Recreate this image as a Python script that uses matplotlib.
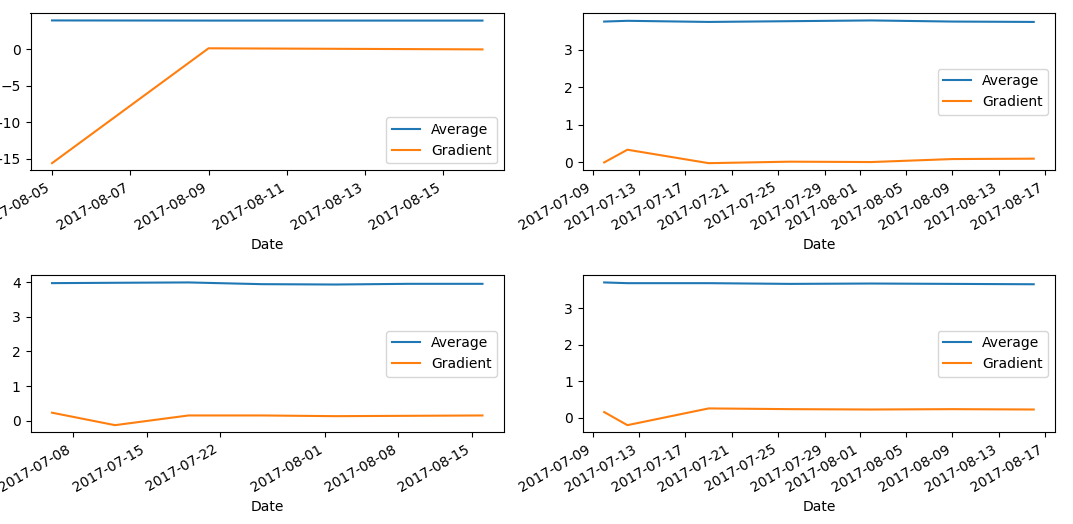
import numpy as np
import pandas as pd
import matplotlib
matplotlib.use('Agg')
import matplotlib.pyplot as plt

# four series
dates_a = ['2017-08-05', '2017-08-09', '2017-08-16']
avg_a = [3.97, 3.95, 3.95]
grad_a = [-15.6, 0.15, 0.0]

dates_b = ['2017-07-10', '2017-07-12', '2017-07-19', '2017-07-26', '2017-08-02', '2017-08-09', '2017-08-16']
avg_b = [3.76, 3.78, 3.75, 3.77, 3.79, 3.76, 3.75]
grad_b = [-0.01, 0.33, -0.03, 0.01, 0.0, 0.08, 0.09]

dates_c = ['2017-07-06', '2017-07-12', '2017-07-19', '2017-07-26', '2017-08-02', '2017-08-09', '2017-08-16']
avg_c = [3.97, 3.98, 3.99, 3.94, 3.93, 3.95, 3.95]
grad_c = [0.23, -0.13, 0.15, 0.15, 0.13, 0.14, 0.15]

dates_d = ['2017-07-10', '2017-07-12', '2017-07-19', '2017-07-26', '2017-08-02', '2017-08-09', '2017-08-16']
avg_d = [3.71, 3.69, 3.69, 3.67, 3.68, 3.67, 3.66]
grad_d = [0.15, -0.21, 0.25, 0.23, 0.22, 0.23, 0.22]

fig = plt.figure(figsize=(10.73, 5.24), dpi=100)
W, H = 1073., 524.
# axes boxes in pixels (left, top, width, height) - the left labels run off the canvas
boxes = [(30.5, 13.3, 473.5, 157), (582.7, 13.3, 472.5, 157),
         (30.5, 275.3, 473.5, 157), (582.7, 275.3, 472.5, 157)]
data = [(dates_a, avg_a, grad_a, 'lower right'),
        (dates_b, avg_b, grad_b, 'center right'),
        (dates_c, avg_c, grad_c, 'center right'),
        (dates_d, avg_d, grad_d, 'center right')]

for (l, t, w, h), (d, avg, grad, loc) in zip(boxes, data):
    ax = fig.add_axes([l/W, 1-(t+h)/H, w/W, h/H])
    x = pd.to_datetime(d)
    ax.plot(x, avg, label='Average')
    ax.plot(x, grad, label='Gradient')
    ax.legend(loc=loc)
    ax.set_xlabel('Date')
    for lbl in ax.get_xticklabels():
        lbl.set_rotation(30)
        lbl.set_ha('right')

plt.savefig('out.png', dpi=100)
